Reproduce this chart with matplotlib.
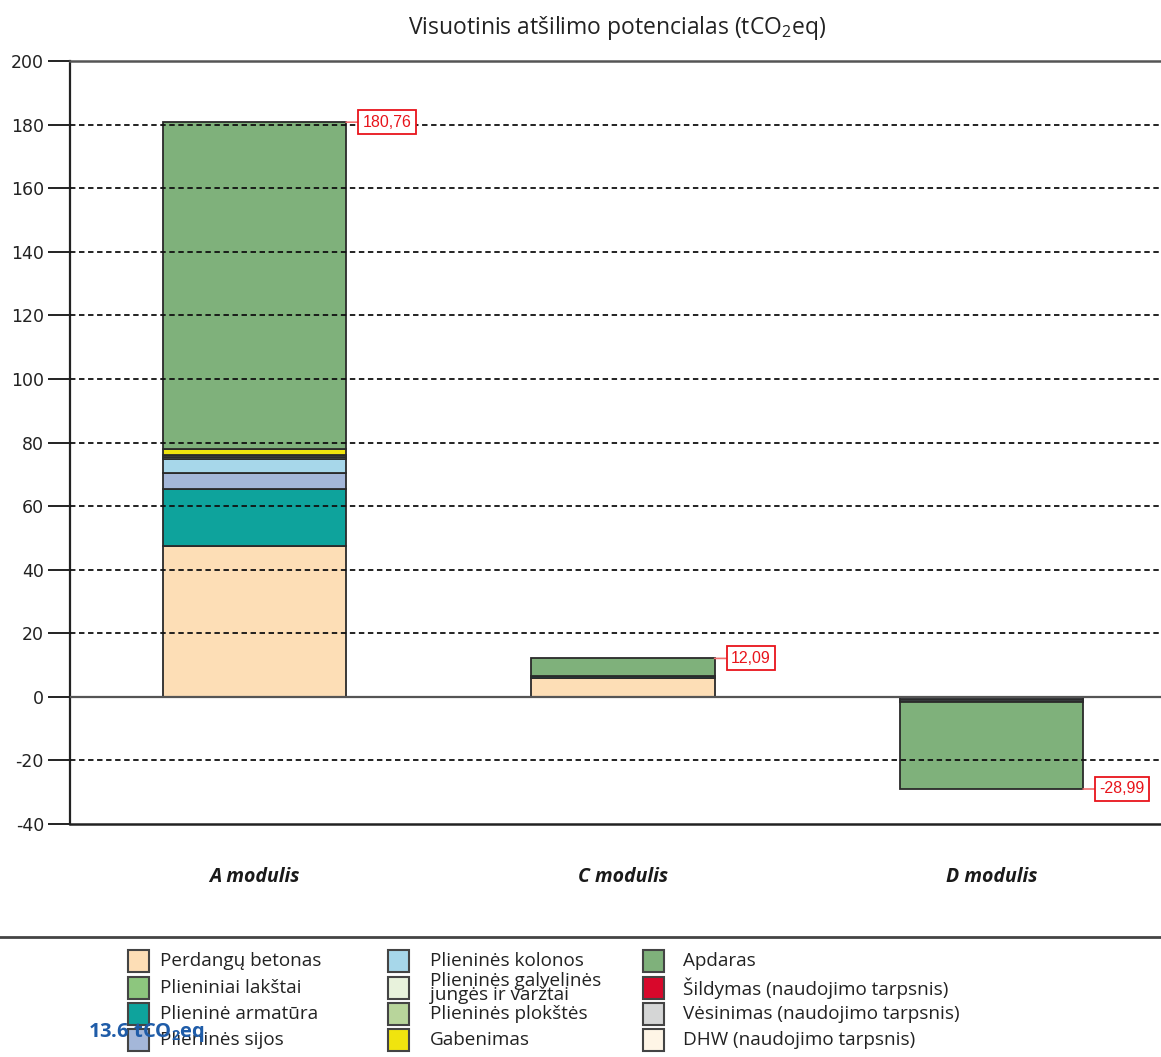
import matplotlib
matplotlib.use("Agg")
import matplotlib.pyplot as plt
from matplotlib.patches import Rectangle
from matplotlib.lines import Line2D
import numpy as np

plt.rcParams['mathtext.fontset'] = 'custom'
plt.rcParams['mathtext.rm'] = 'Open Sans'
plt.rcParams['mathtext.bf'] = 'Open Sans:bold'

# ---------------- data ----------------
modules = ["A modulis", "C modulis", "D modulis"]
series_names = [
    "Perdangų betonas", "Plieniniai lakštai", "Plieninė armatūra", "Plieninės sijos",
    "Plieninės kolonos", "Plieninės galvelinės\njungės ir varžtai", "Plieninės plokštės", "Gabenimas",
    "Apdaras", "Šildymas (naudojimo tarpsnis)", "Vėsinimas (naudojimo tarpsnis)", "DHW (naudojimo tarpsnis)",
]
series_colors = [
    "#FDDEB6", "#8DC67E", "#0EA39C", "#A4B7D9",
    "#A7D7EA", "#E8F2DC", "#B8D59B", "#F0E40E",
    "#7FB17B", "#D8082B", "#D5D6D6", "#FEF5E6",
]
# values per series for [A, C, D]
perdangu_betonas   = [47.5, 6.0, 0.0]
plieniniai_lakstai = [0.0, 0.0, 0.0]
armatura           = [17.8, 0.5, -0.5]
sijos              = [5.0, 0.0, -0.5]
kolonos            = [4.5, 0.0, -0.5]
jungės             = [0.6, 0.0, 0.0]
plokstes           = [0.7, 0.0, 0.0]
gabenimas          = [1.8, 0.0, 0.0]
apdaras            = [102.86, 5.59, -27.49]
sildymas           = [0.0, 0.0, 0.0]
vesinimas          = [0.0, 0.0, 0.0]
dhw                = [0.0, 0.0, 0.0]
series_values = [perdangu_betonas, plieniniai_lakstai, armatura, sijos, kolonos, jungės,
                 plokstes, gabenimas, apdaras, sildymas, vesinimas, dhw]
totals = [180.76, 12.09, -28.99]
total_labels = ["180,76", "12,09", "-28,99"]
yticks = list(range(-40, 201, 20))

W, H = 1161, 1057
fig = plt.figure(figsize=(W / 100, H / 100), dpi=100)

def fx(px):
    return px / W

def fy(py):
    return 1 - py / H

ax = fig.add_axes([fx(70), fy(824), 1 - fx(70), fy(61) - fy(824)])
x = np.arange(len(modules))
width = 0.497

pos_bottom = np.zeros(len(modules))
neg_bottom = np.zeros(len(modules))
for name, col, vals in zip(series_names, series_colors, series_values):
    vals = np.array(vals, dtype=float)
    bottoms = np.where(vals >= 0, pos_bottom, neg_bottom)
    mask = vals != 0
    if mask.any():
        ax.bar(x[mask], vals[mask], width, bottom=bottoms[mask], color=col,
               edgecolor="#2a2a2a", linewidth=1.3, zorder=2)
    pos_bottom += np.where(vals > 0, vals, 0)
    neg_bottom += np.where(vals < 0, vals, 0)

ax.set_xlim(-0.5007, 2.46)
ax.set_ylim(-40, 200)
ax.set_yticks(yticks)
ax.set_yticklabels([str(v) for v in yticks], fontsize=12.5, family="DejaVu Sans", color="#222222")
ax.tick_params(axis="y", length=15.8, width=1.4, pad=3, color="#222222")

ax.set_xticks(x)
ax.set_xticklabels(modules, family="Open Sans", fontstyle="italic", fontweight="bold",
                   fontsize=14, color="#1a1a1a")
ax.tick_params(axis="x", length=0, pad=31)

# grid on top of bars
for v in yticks:
    if v in (-40, 0, 200):
        continue
    ax.axhline(v, color="#111111", linestyle=(0, (3, 2)), linewidth=1.3, zorder=3)
ax.axhline(0, color="#555555", linewidth=1.6, zorder=3)

ax.spines["right"].set_visible(False)
ax.spines["left"].set_linewidth(1.6)
ax.spines["left"].set_color("#222222")
ax.spines["top"].set_linewidth(1.8)
ax.spines["top"].set_color("#555555")
ax.spines["bottom"].set_linewidth(1.8)
ax.spines["bottom"].set_color("#222222")

# total labels
for xi, tot, lab in zip(x, totals, total_labels):
    ax.annotate(lab, xy=(xi + width / 2, tot), xytext=(12, 0), textcoords="offset points",
                ha="left", va="center", fontsize=11.5, family="Liberation Sans", color="#E8141B",
                bbox=dict(boxstyle="square,pad=0.28", fc="white", ec="#E8141B", lw=1.3),
                arrowprops=dict(arrowstyle="-", color="#F07070", lw=1.2, shrinkA=0, shrinkB=0),
                zorder=5)

# title
fig.text(fx(617), fy(28), "Visuotinis atšilimo potencialas (tCO$_2$eq)", ha="center", va="center",
         fontsize=16.5, family="Open Sans", color="#222222")

# separator line
fig.add_artist(Line2D([0, 1], [fy(937), fy(937)], color="#444444", lw=2, transform=fig.transFigure))

# legend (manual, 3 columns x 4 rows)
col_px = [128, 388, 643]
text_px = [160, 430, 683]
row_py = [961, 988, 1014, 1040]
for i, (name, col) in enumerate(zip(series_names, series_colors)):
    c, r = divmod(i, 4)
    px, py = col_px[c], row_py[r]
    fig.add_artist(Rectangle((fx(px), fy(py + 11)), fx(21), fy(0) - fy(22),
                             transform=fig.transFigure, facecolor=col, edgecolor="#444444", lw=1.5))
    fig.text(fx(text_px[c]), fy(py), name, ha="left", va="center", fontsize=13.6,
             family="Open Sans", color="#222222", linespacing=0.76)

fig.text(fx(88), fy(1033), r"13.6 tCO$_\mathbf{2}$eq", ha="left", va="center", fontsize=14.5,
         family="Open Sans", fontweight="bold", color="#1F5CA8", zorder=10)

fig.savefig("out.png", dpi=100)
